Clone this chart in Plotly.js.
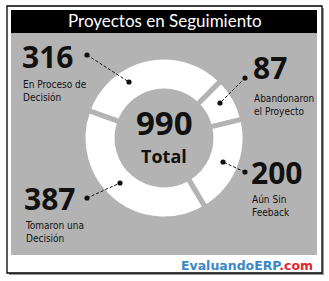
<!DOCTYPE html>
<html>
<head>
<meta charset="utf-8">
<script src="https://cdn.plot.ly/plotly-3.0.1.min.js"></script>
<style>html,body{margin:0;padding:0;background:#fff;}#chart{width:329px;height:281px;}</style>
</head>
<body>
<div id="chart"></div>
<script>
// ---- data ----
const categories = ["En Proceso de Decisión", "Abandonaron el Proyecto", "Aún Sin Feeback", "Tomaron una Decisión"];
const categoryLines = ["En Proceso de<br>Decisión", "Abandonaron<br>el Proyecto", "Aún Sin<br>Feeback", "Tomaron una<br>Decisión"];
const values = [316, 87, 200, 387];
const totalLabel = "Total";
const chartTitle = "Proyectos en Seguimiento";
const footerMain = "EvaluandoERP";
const footerSuffix = ".com";

// ---- layout helpers ----
const W = 329, H = 281;
const px = x => x / W;
const py = y => 1 - y / H;
const total = values.reduce((a, b) => a + b, 0);

const GRAY = "#b3b3b3";
const CX = 164, CY = 138, R = 81;

const pie = {
  type: "pie",
  values: values,
  labels: categories,
  sort: false,
  direction: "clockwise",
  rotation: -70,
  hole: 0.58,
  textinfo: "none",
  hoverinfo: "none",
  showlegend: false,
  marker: { colors: values.map(() => "#ffffff"), line: { color: GRAY, width: 5 } },
  domain: { x: [px(CX - R), px(CX + R)], y: [py(CY + R), py(CY - R)] }
};

const numFont = { family: "Open Sans, sans-serif", size: 30, color: "#111", weight: 700 };
const lblFont = { family: "DejaVu Sans Condensed, DejaVu Sans, sans-serif", stretch: "condensed", size: 10, color: "#111" };

// label placements
const place = [
  { x: 20, ny: 56, ly: 91, o: [87, 55], i: [129, 82] },
  { x: 251, ny: 67, ly: 105, o: [245, 78], i: [220, 103] },
  { x: 249, ny: 172, ly: 206, o: [245, 172], i: [223, 162] },
  { x: 22, ny: 198, ly: 232, o: [87, 198], i: [120, 183] }
];

const annotations = [];
const shapes = [];

// frame
shapes.push({ type: "rect", xref: "paper", yref: "paper", x0: px(9), x1: px(324), y0: py(275), y1: py(8), fillcolor: "#9a9a9a", line: { width: 0 }, layer: "below" });
shapes.push({ type: "rect", xref: "paper", yref: "paper", x0: px(7), x1: px(322), y0: py(273), y1: py(6), fillcolor: "#ffffff", line: { color: "#000", width: 1.3 }, layer: "below" });
shapes.push({ type: "rect", xref: "paper", yref: "paper", x0: px(11), x1: px(317), y0: py(255), y1: py(33), fillcolor: GRAY, line: { width: 0 }, layer: "below" });
shapes.push({ type: "rect", xref: "paper", yref: "paper", x0: px(11), x1: px(317), y0: py(33), y1: py(10), fillcolor: "#000", line: { width: 0 }, layer: "below" });

values.forEach((v, k) => {
  const p = place[k];
  annotations.push({ xref: "paper", yref: "paper", x: px(p.x), y: py(p.ny), xanchor: "left", yanchor: "middle", height: 28, valign: "middle", showarrow: false, text: String(v), font: numFont });
  annotations.push({ xref: "paper", yref: "paper", x: px(p.x + 1), y: py(p.ly), xanchor: "left", yanchor: "middle", height: 28, valign: "middle", align: "left", showarrow: false, text: categoryLines[k], font: lblFont });
  shapes.push({ type: "line", xref: "paper", yref: "paper", x0: px(p.o[0]), y0: py(p.o[1]), x1: px(p.i[0]), y1: py(p.i[1]), line: { color: "#111", width: 1, dash: "3px,2px" } });
  [p.o, p.i].forEach(c => shapes.push({ type: "circle", xref: "paper", yref: "paper", x0: px(c[0] - 2.6), x1: px(c[0] + 2.6), y0: py(c[1] + 2.6), y1: py(c[1] - 2.6), fillcolor: "#111", line: { width: 0 } }));
});

annotations.push({ xref: "paper", yref: "paper", x: px(164), y: py(122), xanchor: "center", yanchor: "middle", height: 30, valign: "middle", showarrow: false, text: String(total), font: { family: "Open Sans, sans-serif", size: 33, color: "#111", weight: 700 } });
annotations.push({ xref: "paper", yref: "paper", x: px(164), y: py(155), xanchor: "center", yanchor: "middle", height: 19, valign: "middle", showarrow: false, text: totalLabel, font: { family: "Open Sans, sans-serif", size: 18, color: "#111", weight: 700 } });
annotations.push({ xref: "paper", yref: "paper", x: px(165), y: py(21), xanchor: "center", yanchor: "middle", showarrow: false, text: chartTitle, font: { family: "Lato, sans-serif", size: 17, color: "#fff" } });
annotations.push({ xref: "paper", yref: "paper", x: px(315), y: py(265), xanchor: "right", yanchor: "middle", showarrow: false,
  text: '<span style="color:#3c87c7">' + footerMain + '</span><span style="color:#e3262d">' + footerSuffix + '</span>',
  font: { family: "DejaVu Sans, sans-serif", size: 12.5, weight: 700, color: "#3c87c7" } });

const layout = {
  width: W, height: H,
  margin: { l: 0, r: 0, t: 0, b: 0 },
  paper_bgcolor: "#ffffff",
  plot_bgcolor: "rgba(0,0,0,0)",
  showlegend: false,
  shapes: shapes,
  annotations: annotations
};

Plotly.newPlot("chart", [pie], layout, { displayModeBar: false, staticPlot: true });
</script>
</body>
</html>
